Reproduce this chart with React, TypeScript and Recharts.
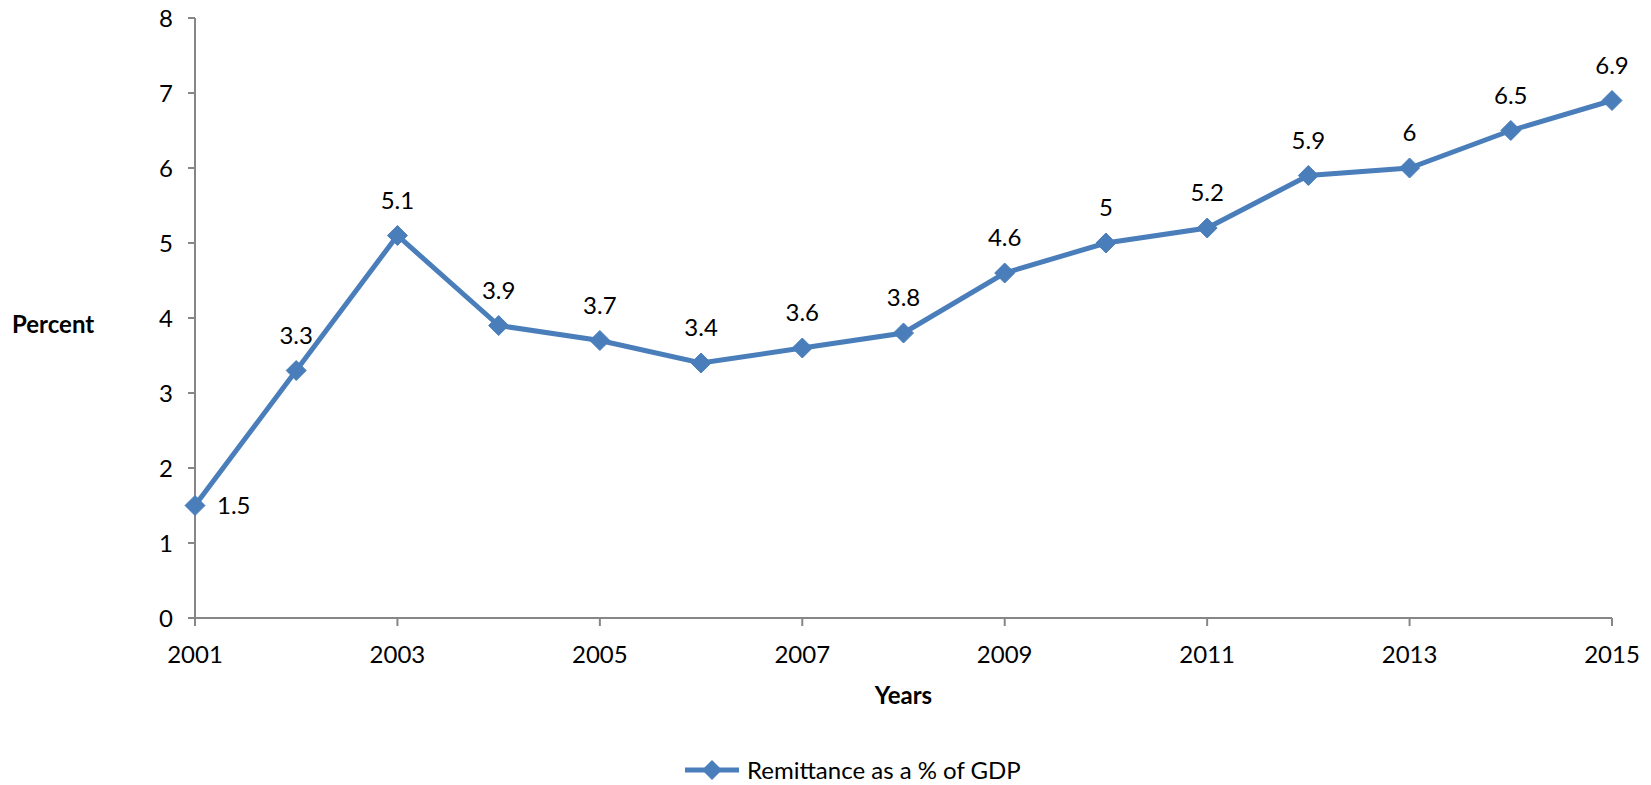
import React from "react";
import {
  LineChart,
  Line,
  XAxis,
  YAxis,
  Legend,
  LabelList,
} from "recharts";

const years = [
  "2001", "2002", "2003", "2004", "2005", "2006", "2007", "2008",
  "2009", "2010", "2011", "2012", "2013", "2014", "2015",
];
const remittance = [1.5, 3.3, 5.1, 3.9, 3.7, 3.4, 3.6, 3.8, 4.6, 5, 5.2, 5.9, 6, 6.5, 6.9];
const yTicks = [0, 1, 2, 3, 4, 5, 6, 7, 8];

const data = years.map((year, i) => ({ year, value: remittance[i] }));

const BLUE = "#4A7EBB";
const AXIS = "#868686";
const FONT = "Lato, 'Open Sans', sans-serif";
const SIZE = 24;

function Diamond(props: any) {
  const { cx, cy } = props;
  if (cx == null || cy == null) return null;
  const r = 10;
  return (
    <path
      d={`M${cx},${cy - r} L${cx + r},${cy} L${cx},${cy + r} L${cx - r},${cy} Z`}
      fill={BLUE}
      stroke={BLUE}
      strokeWidth={1}
    />
  );
}

// first point is labelled to its right, the rest sit above the marker
function ValueLabel(props: any) {
  const { x, y, value, index } = props;
  const right = index === 0;
  return (
    <text
      x={right ? x + 22 : x}
      y={right ? y + 8 : y - 27}
      textAnchor={right ? "start" : "middle"}
      fontSize={SIZE}
      fontFamily={FONT}
      fill="#000"
    >
      {value}
    </text>
  );
}

function LegendContent() {
  return (
    <div
      style={{
        display: "flex",
        alignItems: "center",
        fontFamily: FONT,
        fontSize: SIZE,
        lineHeight: "24px",
        paddingTop: 40,
        paddingLeft: 683,
      }}
    >
      <svg width={58} height={24} style={{ marginRight: 6 }}>
        <line x1={2} y1={12} x2={56} y2={12} stroke={BLUE} strokeWidth={5} />
        <path d="M29,2 L39,12 L29,22 L19,12 Z" fill={BLUE} />
      </svg>
      <span>Remittance as a % of GDP</span>
    </div>
  );
}

export default function App() {
  return (
    <div style={{ position: "absolute", left: 0, top: 0, background: "#fff" }}>
      <LineChart
        width={1651}
        height={785}
        data={data}
        margin={{ top: 18, right: 39, left: 0, bottom: 0 }}
      >
        <XAxis
          dataKey="year"
          interval={1}
          tickSize={8}
          tickMargin={20}
          stroke={AXIS}
          strokeWidth={2}
          tick={{ fill: "#000", fontSize: SIZE, fontFamily: FONT }}
          height={100}
          label={{
            value: "Years",
            position: "insideTop",
            offset: 69,
            fill: "#000",
            fontSize: SIZE,
            fontWeight: 700,
            fontFamily: FONT,
          }}
        />
        <YAxis
          domain={[0, 8]}
          ticks={yTicks}
          width={195}
          tickSize={7}
          tickMargin={15}
          stroke={AXIS}
          strokeWidth={2}
          tick={{ fill: "#000", fontSize: SIZE, fontFamily: FONT }}
          label={{
            value: "Percent",
            position: "insideLeft",
            offset: 12,
            dy: 6,
            fill: "#000",
            fontSize: SIZE,
            fontWeight: 700,
            fontFamily: FONT,
          }}
        />
        <Legend verticalAlign="bottom" height={67} content={<LegendContent />} />
        <Line
          type="linear"
          dataKey="value"
          stroke={BLUE}
          strokeWidth={5}
          dot={<Diamond />}
          activeDot={false}
          isAnimationActive={false}
        >
          <LabelList dataKey="value" content={<ValueLabel />} />
        </Line>
      </LineChart>
    </div>
  );
}
